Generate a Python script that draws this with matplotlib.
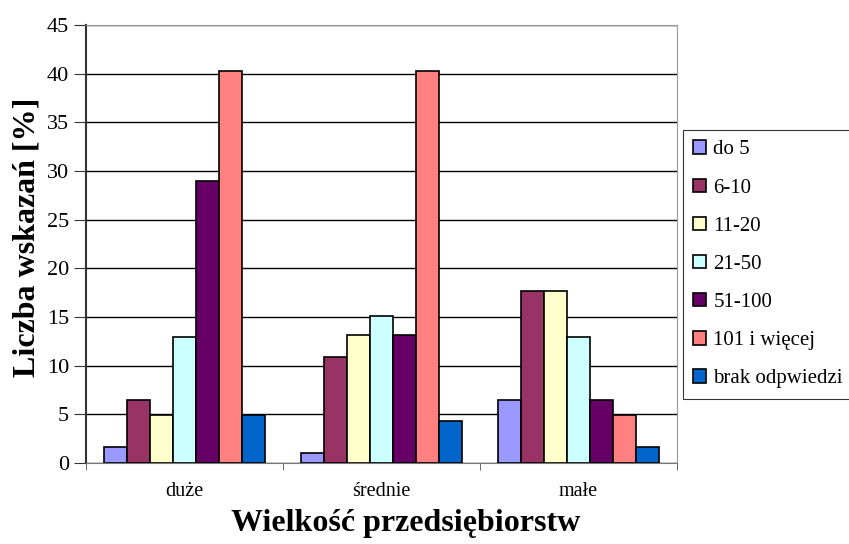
import numpy as np
import matplotlib.pyplot as plt

plt.rcParams["font.family"] = ["Liberation Serif", "DejaVu Serif"]

categories = ["duże", "średnie", "małe"]
series_names = ["do 5", "6-10", "11-20", "21-50", "51-100", "101 i więcej", "brak odpwiedzi"]
do_5 = [1.6, 1.0, 6.5]
s_6_10 = [6.5, 10.9, 17.7]
s_11_20 = [4.9, 13.1, 17.7]
s_21_50 = [12.9, 15.1, 12.9]
s_51_100 = [29.0, 13.1, 6.5]
s_101 = [40.3, 40.3, 4.9]
brak = [4.9, 4.3, 1.6]
values = [do_5, s_6_10, s_11_20, s_21_50, s_51_100, s_101, brak]
colors = ["#9999FF", "#993366", "#FFFFCC", "#CCFFFF", "#660066", "#FF8080", "#0066CC"]

fig = plt.figure(figsize=(8.49, 5.44), dpi=100)
ax = fig.add_axes([0.101, 0.149, 0.696, 0.805])

x = np.arange(len(categories))
width = 0.117
for i, (name, vals, col) in enumerate(zip(series_names, values, colors)):
    offset = (i - 3) * width
    ax.bar(x + offset, vals, width, color=col, edgecolor="black",
           linewidth=1.2, label=name, zorder=3)

ax.set_xlim(-0.5, 2.5)
ax.set_ylim(0, 45)
ax.set_yticks(range(0, 46, 5))
ax.yaxis.grid(True, color="black", linewidth=1.0, zorder=0)
ax.set_axisbelow(True)

ax.set_xticks(x)
ax.set_xticklabels(categories, fontsize=14.5)
ax.set_xticks([-0.5, 0.5, 1.5, 2.5], minor=True)
ax.tick_params(axis="x", which="major", length=0, pad=14)
ax.tick_params(axis="x", which="minor", length=5, color="#555555", direction="out")
ax.tick_params(axis="y", length=9, color="#333333", labelsize=16, direction="out", pad=3)

for s in ["top", "right"]:
    ax.spines[s].set_color("#999999")
ax.spines["left"].set_color("#333333")
ax.spines["bottom"].set_color("#777777")
ax.spines["left"].set_linewidth(1.5)

ax.set_ylabel("Liczba wskazań [%]", fontsize=23, fontweight="bold")
ax.yaxis.set_label_coords(-0.075, 0.515)
ax.set_xlabel("Wielkość przedsiębiorstw", fontsize=23, fontweight="bold")
ax.xaxis.set_label_coords(0.541, -0.105)

leg = fig.legend(loc="upper left", bbox_to_anchor=(0.8045, 0.761), fontsize=15,
                 frameon=True, fancybox=False, edgecolor="black",
                 handlelength=0.6, handleheight=0.6, handletextpad=0.35,
                 labelspacing=0.92, borderpad=0.5, borderaxespad=0)
leg.get_frame().set_linewidth(0.8)

fig.savefig("out.png", dpi=100)
